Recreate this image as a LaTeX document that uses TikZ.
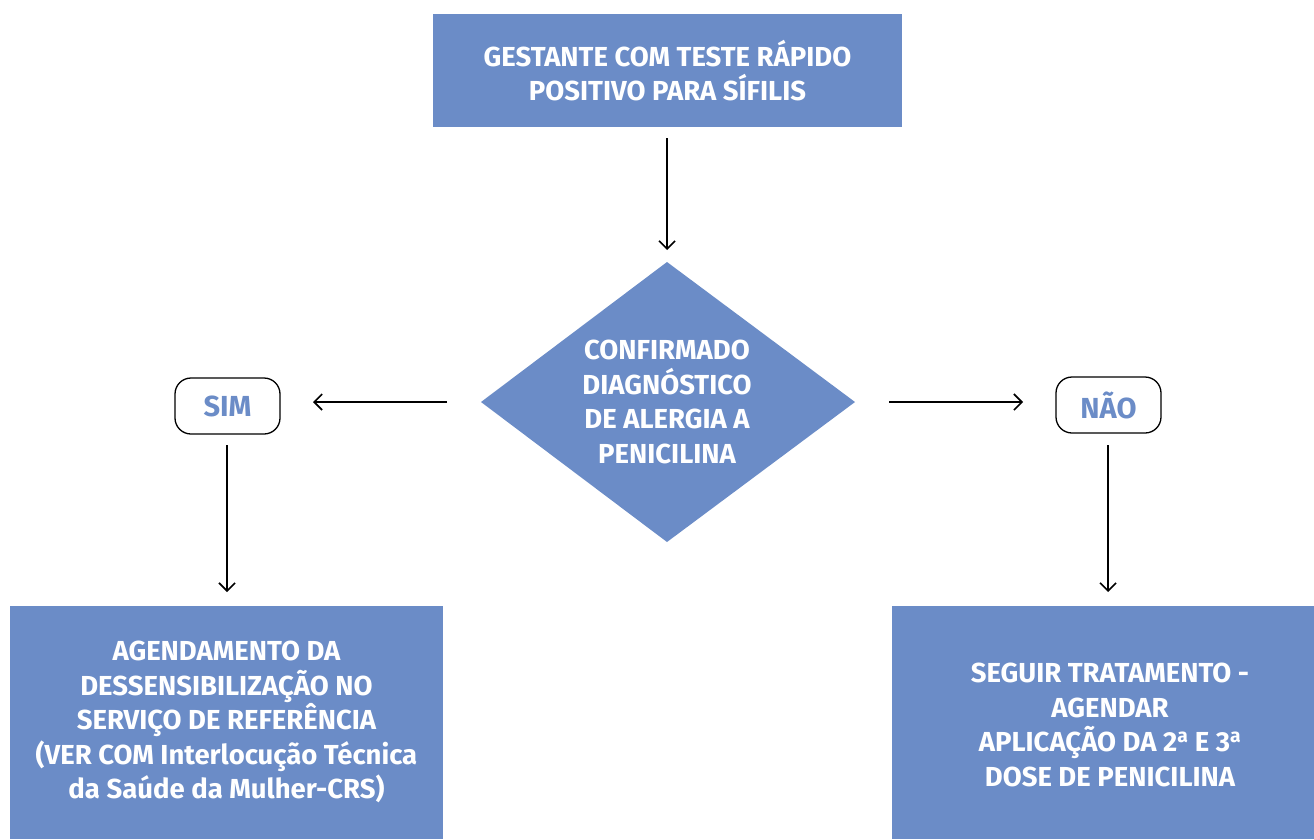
\documentclass[tikz,border=0pt]{standalone}
\usepackage{fontspec}
\setmainfont{Fira Sans}
\usetikzlibrary{arrows.meta,shapes.geometric}
\definecolor{boxblue}{RGB}{107,140,199}
\tikzset{
  fillbox/.style={fill=boxblue, draw=none, text=white, font=\bfseries\fontsize{27.5}{34.5}\selectfont, align=center, inner sep=0pt},
  answer/.style={draw=black, line width=1.3pt, rounded corners=16pt, text=boxblue, font=\bfseries\fontsize{29}{30}\selectfont, minimum width=105pt, minimum height=56pt, inner sep=0pt},
  conn/.style={line width=1.3pt, -{Straight Barb[length=8pt,width=16pt,line width=1.6pt]}}
}
\newcommand{\ordA}{\textsuperscript{a}}
\begin{document}
\begin{tikzpicture}[x=1pt,y=-1pt]
\useasboundingbox (0,0) rectangle (1314,839);
\node[fillbox, minimum width=469pt, minimum height=113pt] (top) at (667.5,70.5) {GESTANTE COM TESTE RÁPIDO\\POSITIVO PARA SÍFILIS};
\fill[boxblue] (481,402) -- (667,262) -- (855,402) -- (667,542) -- cycle;
\node[fillbox] (dia) at (667,402) {CONFIRMADO\\DIAGNÓSTICO\\DE ALERGIA A\\PENICILINA};
\coordinate (diaL) at (447,402);
\coordinate (diaR) at (889,402);
\coordinate (topB) at (667,138);
\coordinate (diaT) at (667,250);
\node[answer] (sim) at (227.5,406) {SIM};
\node[answer] (nao) at (1108.5,405) {NÃO};
\fill[boxblue] (10,606) rectangle (443,839);
\node[fillbox] (left) at (226.5,722) {AGENDAMENTO DA\\DESSENSIBILIZAÇÃO NO\\SERVIÇO DE REFERÊNCIA\\(VER COM Interlocução Técnica\\da Saúde da Mulher-CRS)};
\fill[boxblue] (892,606) rectangle (1314,839);
\node[fillbox] (right) at (1110,725) {SEGUIR TRATAMENTO -\\AGENDAR\\APLICAÇÃO DA 2\ordA{} E 3\ordA\\DOSE DE PENICILINA};
\coordinate (simB) at (227,445);
\coordinate (leftT) at (227,592);
\coordinate (naoB) at (1108,445);
\coordinate (rightT) at (1108,592);
\draw[conn] (topB) -- (diaT);
\draw[conn] (diaL) -- (313,402) coordinate (simR);
\draw[conn] (diaR) -- (1023,402) coordinate (naoL);
\draw[conn] (simB) -- (leftT);
\draw[conn] (naoB) -- (rightT);
\end{tikzpicture}
\end{document}
